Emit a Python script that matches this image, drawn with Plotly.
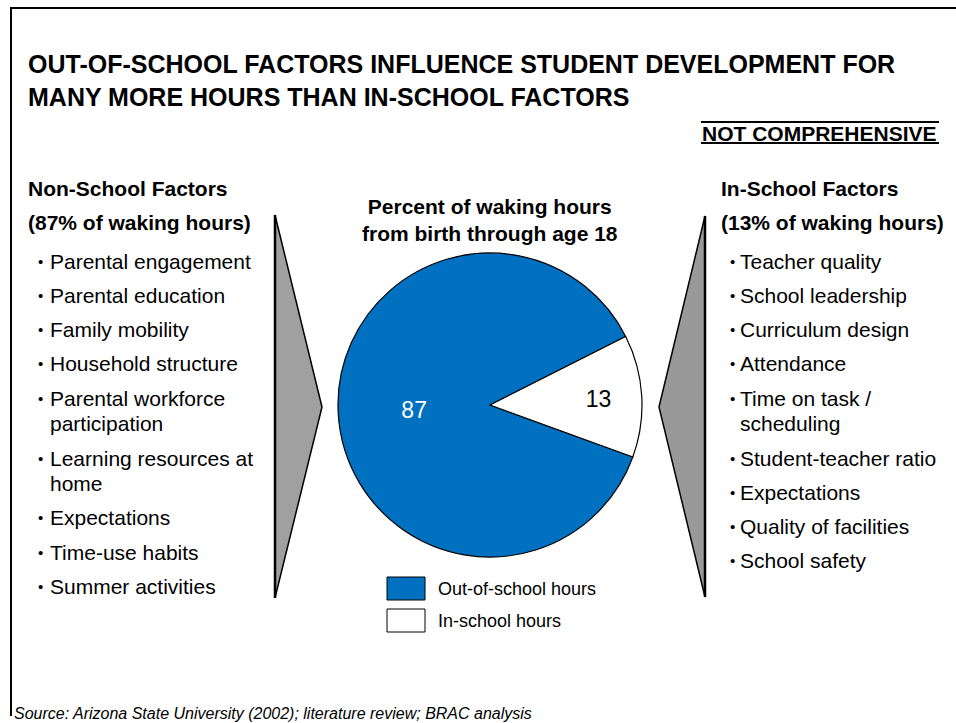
import plotly.graph_objects as go

W, H = 956, 723

# ---- data ----
pie_labels = ["Out-of-school hours", "In-school hours"]
pie_values = [87, 13]
pie_colors = ["#0070C0", "#FFFFFF"]
pie_text_colors = ["white", "black"]

title_lines = ["OUT-OF-SCHOOL FACTORS INFLUENCE STUDENT DEVELOPMENT FOR",
               "MANY MORE HOURS THAN IN-SCHOOL FACTORS"]
tag_text = "NOT COMPREHENSIVE"
pie_title = ["Percent of waking hours", "from birth through age 18"]
left_head = ["Non-School Factors", "(87% of waking hours)"]
right_head = ["In-School Factors", "(13% of waking hours)"]
left_items = [["Parental engagement"], ["Parental education"], ["Family mobility"],
              ["Household structure"], ["Parental workforce", "participation"],
              ["Learning resources at", "home"], ["Expectations"], ["Time-use habits"],
              ["Summer activities"]]
right_items = [["Teacher quality"], ["School leadership"], ["Curriculum design"],
               ["Attendance"], ["Time on task /", "scheduling"], ["Student-teacher ratio"],
               ["Expectations"], ["Quality of facilities"], ["School safety"]]
source_text = "Source: Arizona State University (2002); literature review; BRAC analysis"

FONT = "Arial, Liberation Sans, sans-serif"


def X(px):
    return px / W


def Y(py):
    return 1 - py / H


fig = go.Figure()

# pie geometry
cx, cy, r = 490, 405, 152
fig.add_trace(go.Pie(
    labels=pie_labels, values=pie_values, sort=False,
    direction="clockwise", rotation=110,
    marker=dict(colors=pie_colors, line=dict(color="black", width=1.2)),
    textinfo="value", textposition="inside", insidetextorientation="horizontal",
    textfont=dict(family=FONT, size=23, color=pie_text_colors),
    domain=dict(x=[X(cx - r), X(cx + r)], y=[Y(cy + r), Y(cy - r)]),
    showlegend=False, hoverinfo="label+value",
))

shapes = []
ann = []

# frame
shapes.append(dict(type="path", xref="paper", yref="paper",
                   path=f"M {X(11)} {Y(716)} L {X(11)} {Y(8)} L {X(960)} {Y(8)}",
                   line=dict(color="black", width=2)))

# title
ann.append(dict(x=X(26), y=Y(80.5), xanchor="left", yanchor="middle", align="left",
                text="<b>" + "<br>".join(title_lines) + "</b>",
                font=dict(family=FONT, size=25, color="black")))

# NOT COMPREHENSIVE
ann.append(dict(x=X(939), y=Y(133), xanchor="right", yanchor="middle",
                text="<b>" + tag_text + "</b>",
                font=dict(family=FONT, size=21, color="black")))
for yy in (122, 143):
    shapes.append(dict(type="line", xref="paper", yref="paper",
                       x0=X(701), x1=X(939), y0=Y(yy), y1=Y(yy),
                       line=dict(color="black", width=2)))

# pie title
ann.append(dict(x=X(490), y=Y(220), xanchor="center", yanchor="middle", align="center",
                text="<b>" + "<br>".join(pie_title) + "</b>",
                font=dict(family=FONT, size=21, color="black")))


def add_column(head, items, x_head, x_bullet, x_text):
    ann.append(dict(x=X(x_head), y=Y(189), xanchor="left", yanchor="middle",
                    text="<b>" + head[0] + "</b>",
                    font=dict(family=FONT, size=21, color="black")))
    ann.append(dict(x=X(x_head), y=Y(222), xanchor="left", yanchor="middle",
                    text="<b>" + head[1] + "</b>",
                    font=dict(family=FONT, size=21, color="black")))
    extra = 0
    for i, lines in enumerate(items):
        yc = 261 + 34.3 * i + 25.5 * extra
        ann.append(dict(x=X(x_bullet), y=Y(yc), xanchor="left", yanchor="middle",
                        text="•", font=dict(family=FONT, size=15, color="black")))
        for j, ln in enumerate(lines):
            ann.append(dict(x=X(x_text), y=Y(yc + 25.5 * j), xanchor="left", yanchor="middle",
                            text=ln, font=dict(family=FONT, size=21, color="black")))
        extra += len(lines) - 1


add_column(left_head, left_items, 26, 36, 48)
add_column(right_head, right_items, 719, 728, 738)

# arrows / triangles
shapes.append(dict(type="path", xref="paper", yref="paper",
                   path=f"M {X(275)} {Y(215)} L {X(322)} {Y(407)} L {X(275)} {Y(598)} Z",
                   fillcolor="#A0A0A0", line=dict(color="black", width=1.5)))
shapes.append(dict(type="path", xref="paper", yref="paper",
                   path=f"M {X(705)} {Y(216)} L {X(659)} {Y(407)} L {X(705)} {Y(597)} Z",
                   fillcolor="#999999", line=dict(color="black", width=1.5)))
shapes.append(dict(type="line", xref="paper", yref="paper",
                   x0=X(275), x1=X(275), y0=Y(215), y1=Y(598),
                   line=dict(color="black", width=2.5)))
shapes.append(dict(type="line", xref="paper", yref="paper",
                   x0=X(705), x1=X(705), y0=Y(216), y1=Y(597),
                   line=dict(color="black", width=2.5)))

# legend
for k, (lab, col) in enumerate(zip(pie_labels, pie_colors)):
    y0 = 577 + 32 * k
    shapes.append(dict(type="rect", xref="paper", yref="paper",
                       x0=X(387), x1=X(425), y0=Y(y0), y1=Y(y0 + 23),
                       fillcolor=col, line=dict(color="black", width=1)))
    ann.append(dict(x=X(436), y=Y(y0 + 12), xanchor="left", yanchor="middle",
                    text=lab, font=dict(family=FONT, size=18, color="black")))

# source
ann.append(dict(x=X(12), y=Y(713), xanchor="left", yanchor="middle",
                text="<i>" + source_text + "</i>",
                font=dict(family=FONT, size=16, color="black")))

for a in ann:
    a.setdefault("xref", "paper")
    a.setdefault("yref", "paper")
    a.setdefault("showarrow", False)

fig.update_layout(width=W, height=H, margin=dict(l=0, r=0, t=0, b=0),
                  paper_bgcolor="white", plot_bgcolor="white",
                  shapes=shapes, annotations=ann,
                  xaxis=dict(visible=False), yaxis=dict(visible=False))

fig.write_html("out.html")
